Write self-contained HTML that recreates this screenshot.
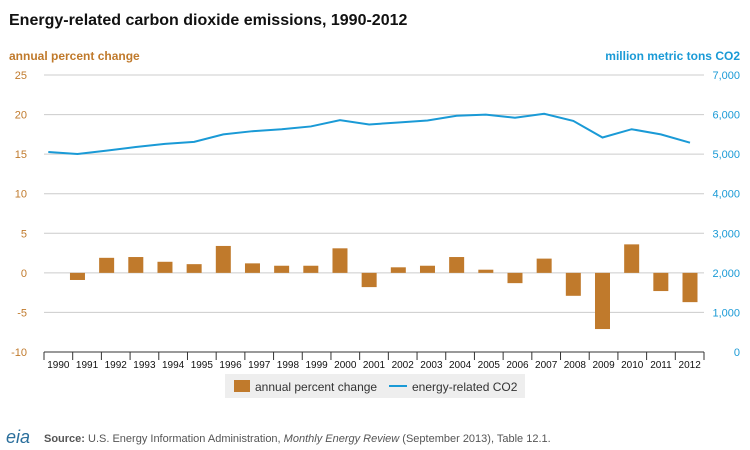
<!DOCTYPE html>
<html><head><meta charset="utf-8"><style>
body{margin:0;background:#fff;font-family:"Liberation Sans",Arial,sans-serif;}
#wrap{position:relative;width:750px;height:450px;overflow:hidden;}
</style></head><body>
<div id="wrap">
<svg id="chart" width="750" height="450" xmlns="http://www.w3.org/2000/svg">
<text x="9" y="25" font-size="16" font-weight="bold" fill="#111">Energy-related carbon dioxide emissions, 1990-2012</text>
<text x="9" y="60" font-size="12" font-weight="bold" fill="#c07a2c">annual percent change</text>
<text x="740" y="60" font-size="12" font-weight="bold" fill="#1a9ad6" text-anchor="end">million metric tons CO2</text>
<g id="grid"></g><g id="bars"></g><g id="line"></g><g id="axes"></g>
<g>
<rect x="225" y="374" width="300" height="24" fill="#eee"/>
<rect x="234" y="380" width="16" height="12" fill="#c07a2c"/>
<text x="255" y="391" font-size="12" fill="#333">annual percent change</text>
<line x1="389" y1="386" x2="407" y2="386" stroke="#1a9ad6" stroke-width="2"/>
<text x="412" y="391" font-size="12" fill="#333">energy-related CO2</text>
</g>
<text x="6" y="443" font-size="18" font-style="italic" fill="#2b6f9c">eia</text>
<text x="44" y="442" font-size="11" fill="#555"><tspan font-weight="bold">Source:</tspan> U.S. Energy Information Administration, <tspan font-style="italic">Monthly Energy Review</tspan> (September 2013), Table 12.1.</text>
</svg></div>
<script>
const years=["1990","1991","1992","1993","1994","1995","1996","1997","1998","1999","2000","2001","2002","2003","2004","2005","2006","2007","2008","2009","2010","2011","2012"];
const pctChange=[0,-0.9,1.9,2.0,1.4,1.1,3.4,1.2,0.9,0.9,3.1,-1.8,0.7,0.9,2.0,0.4,-1.3,1.8,-2.9,-7.1,3.6,-2.3,-3.7];
const co2=[5054,5004,5090,5180,5260,5310,5500,5580,5630,5700,5860,5750,5800,5850,5970,6000,5920,6020,5840,5420,5630,5500,5290];
const leftTicks=[-10,-5,0,5,10,15,20,25];
const rightTicks=[0,1000,2000,3000,4000,5000,6000,7000];
const NS="http://www.w3.org/2000/svg";
const X0=44,X1=704,Ytop=75,Ybot=352;
const bw=(X1-X0)/years.length;
const yL=v=>Ybot-(v+10)/35*(Ybot-Ytop);
const yR=v=>Ybot-v/7000*(Ybot-Ytop);
const xC=i=>X0+bw*(i+0.5);
const xM=i=>48.3+(690-48.3)/(years.length-1)*i;
function mk(tag,attrs,parent){const e=document.createElementNS(NS,tag);for(const k in attrs)e.setAttribute(k,attrs[k]);document.getElementById(parent).appendChild(e);return e;}
leftTicks.forEach((t,i)=>{
 const g=mk('line',{x1:X0,x2:X1,y1:yL(t),y2:yL(t),stroke:'#ccc','stroke-width':1},'grid');
 
 
 const l=mk('text',{x:27,y:yL(t)+4,'font-size':11,fill:'#c07a2c','text-anchor':'end'},'axes');l.textContent=t;
 
 
});
rightTicks.forEach(t=>{
 const l=mk('text',{x:740,y:yR(t)+4,'font-size':11,fill:'#1a9ad6','text-anchor':'end'},'axes');l.textContent=t.toLocaleString('en-US');
 
 
});
years.forEach((y,i)=>{
 const v=pctChange[i];
 const r=mk('rect',{x:xM(i)-7.5,y:Math.min(yL(v),yL(0)),width:15,height:Math.abs(yL(v)-yL(0)),fill:'#c07a2c'},'bars');
 
 
 const t=mk('line',{x1:X0+bw*i,x2:X0+bw*i,y1:Ybot,y2:Ybot+8,stroke:'#333'},'axes');
 
 
 const l=mk('text',{x:xC(i),y:Ybot+16,'font-size':10,fill:'#111','text-anchor':'middle'},'axes');l.textContent=y;
 
 
});
const lt=mk('line',{x1:X1,x2:X1,y1:Ybot,y2:Ybot+8,stroke:'#333'},'axes');


const ax=mk('line',{x1:X0,x2:X1,y1:Ybot,y2:Ybot,stroke:'#333'},'axes');


const p=mk('polyline',{points:co2.map((v,i)=>xM(i)+','+yR(v)).join(' '),fill:'none',stroke:'#1a9ad6','stroke-width':2},'line');


</script>
</body></html>
